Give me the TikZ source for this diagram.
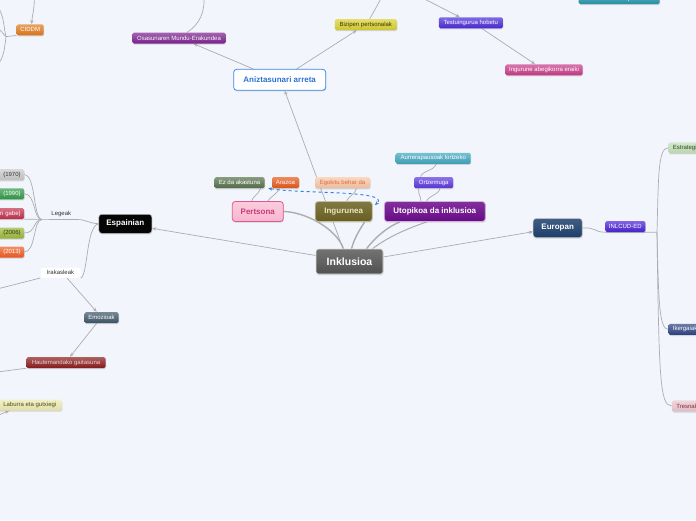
\documentclass[tikz,border=0pt]{standalone}
\usepackage{fontspec}
\setmainfont{Liberation Sans}
\usetikzlibrary{arrows.meta,shadows}
\pgfdeclarelayer{bg}
\pgfsetlayers{bg,main}
\definecolor{bgc}{HTML}{F2F5FC}
\definecolor{lnc}{HTML}{ADADAD}
\definecolor{txd}{HTML}{333333}
\definecolor{dashc}{HTML}{2E7FE0}
\definecolor{inkC}{HTML}{5A5A5A}
\definecolor{anizB}{HTML}{3A8AE6}
\definecolor{anizT}{HTML}{2A72D2}
\definecolor{osasC}{HTML}{7D2290}
\definecolor{bizC}{HTML}{D8D030}
\definecolor{bizT}{HTML}{3A3500}
\definecolor{testC}{HTML}{4A2AD6}
\definecolor{ingabC}{HTML}{C83A88}
\definecolor{komC}{HTML}{2895AA}
\definecolor{ciddmC}{HTML}{E07A1C}
\definecolor{persF}{HTML}{F9B6CE}
\definecolor{persB}{HTML}{DD5B93}
\definecolor{persT}{HTML}{C63F7B}
\definecolor{ingC}{HTML}{6B6222}
\definecolor{ingT}{HTML}{EFE6C0}
\definecolor{utoC}{HTML}{6C0B8C}
\definecolor{ezC}{HTML}{54704A}
\definecolor{arazC}{HTML}{E5561A}
\definecolor{egoF}{HTML}{F7C6A6}
\definecolor{egoT}{HTML}{E06A3A}
\definecolor{ortzC}{HTML}{5A36DE}
\definecolor{aurrC}{HTML}{3FA5BD}
\definecolor{espC}{HTML}{050505}
\definecolor{gA}{HTML}{C8C8C8}
\definecolor{gB}{HTML}{2F9A46}
\definecolor{gC}{HTML}{C2304C}
\definecolor{gD}{HTML}{9CB83C}
\definecolor{gDT}{HTML}{2A3A00}
\definecolor{gE}{HTML}{EE5C22}
\definecolor{emozC}{HTML}{3E5668}
\definecolor{hautC}{HTML}{8A1C1C}
\definecolor{hautT}{HTML}{F0D0D0}
\definecolor{labC}{HTML}{ECEAB0}
\definecolor{labT}{HTML}{4A4A20}
\definecolor{eurC}{HTML}{1E416F}
\definecolor{inlC}{HTML}{4A22D4}
\definecolor{estrC}{HTML}{C2E0B6}
\definecolor{estrT}{HTML}{2F4A2A}
\definecolor{ikerC}{HTML}{2C4282}
\definecolor{tresC}{HTML}{E9C6CE}
\definecolor{tresT}{HTML}{8A2A3A}
\begin{document}
\begin{tikzpicture}[x=1pt,y=-1pt,
  ln/.style={draw=lnc, line width=0.7pt},
  thk/.style={draw=lnc, line width=1.4pt, line cap=round},
  arr/.style={-{Stealth[length=4.2pt,width=3.4pt]}},
  shad/.style={drop shadow={opacity=0.28, shadow xshift=0.5pt, shadow yshift=-1.1pt}},
  sbox/.style={shad, rounded corners=1.5pt, inner sep=0pt, minimum height=11pt,
    font=\fontsize{6}{7}\selectfont, text=white, top color=#1!70!white, bottom color=#1!95!black},
  mbox/.style={shad, rounded corners=3pt, inner sep=0pt, minimum height=20pt,
    font=\bfseries\fontsize{8}{9}\selectfont, line width=0.8pt},
  lbl/.style={inner sep=0pt, font=\fontsize{6}{7}\selectfont, text=txd}
]
\useasboundingbox (0,0) rectangle (696,520);

% ---------- central ----------
\node[shad, rounded corners=2.5pt, inner sep=0pt, minimum width=67pt, minimum height=25pt,
  top color=inkC!85!white, bottom color=inkC!90!black, draw=white!75!gray, line width=0.6pt,
  text=white, font=\bfseries\fontsize{10.5}{12}\selectfont] (inkl) at (349.5,261.5) {Inklusioa};

% ---------- top ----------
\node[mbox, fill=white, draw=anizB, text=anizT, minimum width=92pt, minimum height=21pt] (aniz) at (279.7,79.8) {Aniztasunari arreta};
\node[sbox=osasC, minimum width=93pt] (osas) at (179,38) {Osasunaren Mundu-Erakundea};
\node[sbox=bizC, text=bizT, minimum width=62pt] (bizi) at (365.8,24.5) {Bizipen pertsonalak};
\node[sbox=testC, minimum width=64pt] (test) at (470.8,22.8) {Testuingurua hobetu};
\node[sbox=ingabC, minimum width=77pt] (ingab) at (544,69.8) {Ingurune abegikorra eraiki};
\node[sbox=komC, minimum width=81pt] (komu) at (619.2,-1.5) {Komunitatearen parte izan};
\node[sbox=ciddmC, minimum width=27pt] (ciddm) at (30.2,29.8) {CIDDM};

% ---------- middle topics ----------
\node[mbox, top color=persF!70!white, bottom color=persF, draw=persB, text=persT, minimum width=51pt] (pers) at (257.8,211.5) {Pertsona};
\node[mbox, top color=ingC!85!white, bottom color=ingC!95!black, draw=ingC!40!white, text=ingT, minimum width=57pt] (ing) at (343.7,211.5) {Ingurunea};
\node[mbox, top color=utoC!85!white, bottom color=utoC!95!black, draw=utoC!30!white, text=white, minimum width=101pt] (uto) at (434.8,211.5) {Utopikoa da inklusioa};

\node[sbox=ezC, minimum width=50pt] (ez) at (239.5,182.7) {Ez da akastuna};
\node[sbox=arazC, minimum width=27pt] (araz) at (285.5,182.7) {Arazoa};
\node[sbox=egoF, text=egoT, minimum width=55pt] (ego) at (342.5,182.7) {Egokitu behar da};
\node[sbox=ortzC, minimum width=39pt] (ortz) at (433.7,182.7) {Ortzemuga};
\node[sbox=aurrC, minimum width=75pt] (aurr) at (433.2,158.3) {Aurrerapausoak lortzeko};

% ---------- Espainian ----------
\node[mbox, fill=espC, draw=gray!60, line width=0.5pt, text=white, minimum width=53pt, minimum height=19pt] (esp) at (125.3,223.8) {Espainian};
\node[lbl] (lege) at (61.3,213.5) {Legeak};
\node[lbl, fill=white, rounded corners=2pt, minimum width=40pt, minimum height=10pt] (iraka) at (60.5,272.8) {Irakasleak};

\node[sbox=gA, text=txd, anchor=east, text width=33pt, inner xsep=3.5pt, align=right] (g1970) at (24.3,174.7) {(1970)};
\node[sbox=gB, anchor=east, text width=33pt, inner xsep=3.5pt, align=right] (g1990) at (24.3,193.8) {(1990)};
\node[sbox=gC, anchor=east, text width=33pt, inner xsep=3.5pt, align=right] (gabe) at (24.3,213.6) {ri gabe)};
\node[sbox=gD, text=gDT, anchor=east, text width=33pt, inner xsep=3.5pt, align=right] (g2006) at (24.3,233) {(2006)};
\node[sbox=gE, anchor=east, text width=33pt, inner xsep=3.5pt, align=right] (g2013) at (24.3,252) {(2013)};

\node[sbox=emozC, minimum width=34pt] (emoz) at (101.5,317.5) {Emozioak};
\node[sbox=hautC, text=hautT, minimum width=79pt] (haut) at (66,362.5) {Hautemandako gaitasuna};
\node[sbox=labC, text=labT, minimum width=64pt] (lab) at (29.8,405) {Laburra eta gutxiegi};

% ---------- Europan ----------
\node[mbox, top color=eurC!85!white, bottom color=eurC!95!black, draw=gray!50, line width=0.5pt, text=white, minimum width=49pt, minimum height=19pt] (eur) at (557.7,228) {Europan};
\node[sbox=inlC, minimum width=40pt] (inl) at (625.3,226.5) {INLCUD-ED};
\node[sbox=estrC, text=estrT, anchor=west, text width=40pt, inner xsep=4.4pt, align=left] (estr) at (668.3,147.8) {Estrategiak};
\node[sbox=ikerC, anchor=west, text width=40pt, inner xsep=4.4pt, align=left] (iker) at (668.3,329.4) {Ikergaiak};
\node[sbox=tresC, text=tresT, anchor=west, text width=40pt, inner xsep=4.4pt, align=left] (tres) at (671.7,405.9) {Tresnak};

% ---------- free ends ----------
\coordinate (bizTop) at (383,-5);
\coordinate (osTop) at (204,-5);
\coordinate (testTop) at (416.7,-5);
\coordinate (cidTop) at (34.5,-5);
\coordinate (cidJ) at (6,36.6);
\coordinate (cidL1) at (-2,8);
\coordinate (cidL2) at (-2,29);
\coordinate (cidL3) at (-2,64);
\coordinate (legJ) at (77,219.5);
\coordinate (legK) at (42,219.5);
\coordinate (irakL) at (-5,289.5);
\coordinate (hautL) at (-5,372.3);
\coordinate (labL) at (-5,416.5);
\coordinate (eurK) at (657,232.3);
\coordinate (dA) at (268.3,188.3);
\coordinate (dB) at (375,205);

\begin{pgfonlayer}{bg}
\fill[bgc] (0,0) rectangle (696,520);
% central spokes
\draw[ln,arr] ([xshift=-6.5pt]inkl.north) -- ([xshift=5pt]aniz.south);
\draw[ln,arr] ([yshift=6pt]inkl.west) -- ([yshift=-4.5pt]esp.east);
\draw[ln,arr] ([yshift=4.5pt]inkl.east) -- ([yshift=-3.7pt]eur.west);
\draw[thk] ([xshift=-6pt]inkl.north) .. controls (336,228) and (305,212) .. (pers.east);
\draw[thk] ([xshift=2pt]inkl.north) .. controls (355,236) and (361,228) .. ([xshift=-8pt]ing.south east);
\draw[thk] ([xshift=17pt]inkl.north) .. controls (378,234) and (390,226) .. ([xshift=-35pt]uto.south);
\draw[ln, line width=1pt] ([xshift=23pt]inkl.north) .. controls (392,234) and (415,226) .. ([xshift=-8pt]uto.south);
% top
\draw[ln,arr] ([xshift=-26.5pt]aniz.north) -- ([xshift=14.5pt]osas.south);
\draw[ln,arr] ([xshift=17pt]aniz.north) -- ([xshift=-9pt]bizi.south);
\draw[ln] ([xshift=4pt]bizi.north) -- (bizTop);
\draw[ln] ([xshift=8pt]osas.north) .. controls (200,24) and (205,12) .. (osTop);
\draw[ln,arr] (testTop) -- ([xshift=-11pt]test.north);
\draw[ln,arr] ([xshift=11pt]test.south) -- ([xshift=-9pt]ingab.north);
\draw[ln,arr] (cidTop) .. controls (34.5,10) and (32,16) .. ([xshift=1.5pt]ciddm.north);
\draw[ln] (ciddm.south west) -- (cidJ);
\draw[ln] (cidJ) .. controls (4,30) and (4,14) .. (cidL1);
\draw[ln] (cidJ) .. controls (3,34) and (1,30) .. (cidL2);
\draw[ln] (cidJ) .. controls (5,45) and (4,58) .. (cidL3);
% middle children
\draw[ln] ([xshift=-4pt]ez.south east) .. controls (258,195) and (252,197) .. ([xshift=-6pt]pers.north);
\draw[ln] ([xshift=-6pt]araz.south) .. controls (276,195) and (270,197) .. ([xshift=10pt]pers.north);
\draw[ln] ([xshift=14pt]ego.south) .. controls (355,195) and (348,196) .. ([xshift=3pt]ing.north);
\draw[ln] ([xshift=-15pt]ortz.south) .. controls (418,195) and (421,196) .. ([xshift=-14pt]uto.north);
\draw[ln] ([xshift=6pt]ortz.south) .. controls (440,194) and (428,196) .. ([xshift=-8pt]uto.north);
\draw[ln] ([xshift=3pt]aurr.south) .. controls (434,171) and (421,171) .. ([xshift=-13pt]ortz.north);
% dashed relation
\draw[dashc, dashed, line width=0.9pt, {Stealth[length=4pt,width=3.4pt]}-{Stealth[length=4pt,width=3.4pt]}] (dA) .. controls (300,194) and (392,190) .. (dB);
% Espainian
\draw[ln] (esp.west) .. controls (88,223) and (86,219.5) .. (legJ) -- (gabe.south east);
\draw[ln] (legK) .. controls (33,219.5) and (36,174.7) .. (g1970.east);
\draw[ln] (legK) .. controls (33,219.5) and (36,193.8) .. (g1990.east);
\draw[ln] (legK) .. controls (33,219.5) and (36,233) .. (g2006.east);
\draw[ln] (legK) .. controls (33,219.5) and (36,252) .. (g2013.east);
\draw[ln] (esp.west) .. controls (86,226) and (88,276) .. (iraka.south east);
\draw[ln] (iraka.south west) -- (irakL);
\draw[ln,arr] ([xshift=6.5pt]iraka.south) -- ([xshift=-4.8pt]emoz.north);
\draw[ln,arr] ([xshift=-4.8pt]emoz.south) -- ([xshift=4pt]haut.north);
\draw[ln] (haut.south west) -- (hautL);
\draw[ln,arr] (labL) -- ([xshift=-20.5pt]lab.south);
% Europan
\draw[ln] (eur.east) .. controls (596,227) and (594,232.3) .. (inl.south west) -- (eurK);
\draw[ln] (eurK) .. controls (658.5,175) and (658,148) .. (estr.west);
\draw[ln] (eurK) .. controls (658.5,300) and (659,329.4) .. (iker.west);
\draw[ln] (eurK) .. controls (659,380) and (660,405.9) .. (tres.west);
\end{pgfonlayer}
\end{tikzpicture}
\end{document}
